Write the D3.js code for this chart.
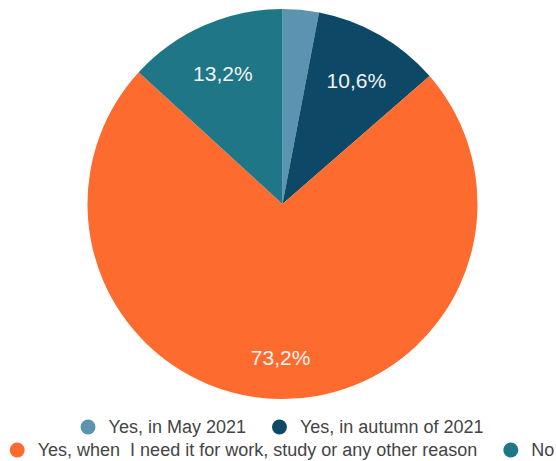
<!DOCTYPE html>
<html>
<head>
<meta charset="utf-8">
<script src="https://cdn.jsdelivr.net/npm/d3@7"></script>
<style>
  body { margin: 0; background: #fff; }
  text { font-family: Arial, "Liberation Sans", sans-serif; }
</style>
</head>
<body>
<svg id="chart" width="556" height="461"></svg>
<script>
// Data
const categories = ["Yes, in May 2021", "Yes, in autumn of 2021", "Yes, when  I need it for work, study or any other reason", "No"];
const shares = [3.0, 10.6, 73.2, 13.2];
const labels = ["", "10,6%", "73,2%", "13,2%"];
const colors = ["#5b93b0", "#0d4866", "#fe6b2f", "#1f7686"];

const svg = d3.select("#chart");
const cx = 282.5, cy = 204, radius = 195;

const data = categories.map((c, i) => ({ name: c, value: shares[i], label: labels[i], color: colors[i] }));

const pie = d3.pie().sort(null).value(d => d.value);
const arc = d3.arc().innerRadius(0).outerRadius(radius);
const labelArc = d3.arc().innerRadius(radius * 0.76).outerRadius(radius * 0.76);

const g = svg.append("g").attr("transform", `translate(${cx},${cy})`);

const slices = g.selectAll("g.slice")
    .data(pie(data))
    .enter()
    .append("g")
    .attr("class", "slice");

slices.append("path")
    .attr("d", arc)
    .attr("fill", d => d.data.color);

slices.append("text")
    .attr("transform", d => `translate(${labelArc.centroid(d)})`)
    .attr("text-anchor", "middle")
    .attr("dy", "0.6em")
    .attr("fill", "#f3f3f3")
    .style("font-size", "21px")
    .text(d => d.data.label);

// legend, two centred rows
const legendRows = [[0, 1], [2, 3]];
const rowY = [427, 450];
const gap = 26;
const legendCenter = 282;
legendRows.forEach((row, r) => {
    const lg = svg.append("g");
    let x = 0;
    row.forEach(i => {
        const item = lg.append("g").attr("transform", `translate(${x},0)`);
        item.append("circle").attr("cx", 7.5).attr("cy", 0).attr("r", 7.5).attr("fill", colors[i]);
        const t = item.append("text")
            .attr("x", 28)
            .attr("dy", "0.35em")
            .attr("fill", "#444")
            .style("font-size", "18px")
            .style("white-space", "pre")
            .attr("xml:space", "preserve")
            .text(categories[i]);
        x += 28 + t.node().getComputedTextLength() + gap;
    });
    const w = x - gap;
    lg.attr("transform", `translate(${legendCenter - w / 2},${rowY[r]})`);
});
</script>
</body>
</html>
